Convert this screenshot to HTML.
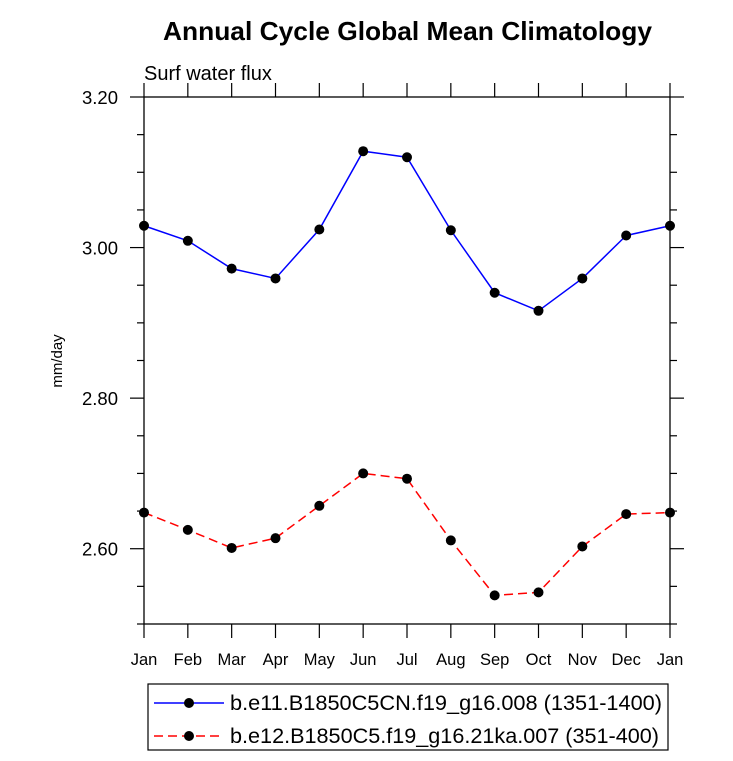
<!DOCTYPE html>
<html><head><meta charset="utf-8"><style>body{margin:0;background:#fff}svg{display:block}</style></head>
<body>
<svg id="chart" width="733" height="761" viewBox="0 0 733 761" font-family="'Liberation Sans', sans-serif">
<text x="163" y="40" textLength="489" lengthAdjust="spacingAndGlyphs" font-size="26" font-weight="bold">Annual Cycle Global Mean Climatology</text>
<text x="144" y="80" font-size="20">Surf water flux</text>
<text transform="translate(62,361) rotate(-90)" text-anchor="middle" font-size="15">mm/day</text>
<g id="axes"></g>
<g id="series"></g>
<g>
<rect x="148" y="684" width="520" height="66" fill="none" stroke="#000" stroke-width="1.2"/>
<line x1="154" y1="703" x2="224" y2="703" stroke="#0000ff" stroke-width="1.5"/>
<circle cx="189" cy="703" r="5" fill="#000"/>
<text x="230" y="710" textLength="432" lengthAdjust="spacingAndGlyphs" font-size="21">b.e11.B1850C5CN.f19_g16.008 (1351-1400)</text>
<line x1="154" y1="736" x2="224" y2="736" stroke="#ff0000" stroke-width="1.5" stroke-dasharray="9,5"/>
<circle cx="189" cy="736" r="5" fill="#000"/>
<text x="230" y="743" textLength="429" lengthAdjust="spacingAndGlyphs" font-size="21">b.e12.B1850C5.f19_g16.21ka.007 (351-400)</text>
</g>
</svg>
<script>
const months = ["Jan","Feb","Mar","Apr","May","Jun","Jul","Aug","Sep","Oct","Nov","Dec","Jan"];
const seriesBlue = [3.029,3.009,2.972,2.959,3.024,3.128,3.120,3.023,2.940,2.916,2.959,3.016,3.029];
const seriesRed = [2.648,2.625,2.601,2.614,2.657,2.700,2.693,2.611,2.538,2.542,2.603,2.646,2.648];
const yTicks = [2.60,2.80,3.00,3.20];
const yTickLabels = ["2.60","2.80","3.00","3.20"];
const yMin = 2.5, yMax = 3.2;
const L=144,R=670,T=97,B=624;
const NS="http://www.w3.org/2000/svg";
function xs(i){return L+(R-L)*i/(months.length-1);}
function ys(v){return B-(B-T)*(v-yMin)/(yMax-yMin);}
function mk(tag,attrs,parent){const e=document.createElementNS(NS,tag);for(const k in attrs)e.setAttribute(k,attrs[k]);parent.appendChild(e);return e;}
const ax=document.getElementById('axes');
const frame=mk('rect',{x:L,y:T,width:R-L,height:B-T,fill:'none',stroke:'#000','stroke-width':1.3},ax);


months.forEach((m,i)=>{
  const x=xs(i);
  mk('line',{x1:x,y1:B,x2:x,y2:B+14,stroke:'#000','stroke-width':1.2},ax);
  mk('line',{x1:x,y1:T,x2:x,y2:T-14,stroke:'#000','stroke-width':1.2},ax);
  const t=mk('text',{x:x,y:B+41,'text-anchor':'middle','font-size':16.5},ax);
  t.textContent=m;
  
  
});
for(let v=yMin;v<=yMax+1e-9;v+=0.05){
  const y=ys(v);
  const major=yTicks.some(t=>Math.abs(t-v)<1e-6);
  const len=major?14:7;
  mk('line',{x1:L,y1:y,x2:L-len,y2:y,stroke:'#000','stroke-width':1.2},ax);
  mk('line',{x1:R,y1:y,x2:R+len,y2:y,stroke:'#000','stroke-width':1.2},ax);
}
yTicks.forEach((v,i)=>{
  const t=mk('text',{x:L-26,y:ys(v)+7,'text-anchor':'end','font-size':18.5},ax);
  t.textContent=yTickLabels[i];
  
  
});
const sg=document.getElementById('series');
function draw(vals,color,dash,name){
  const pts=vals.map((v,i)=>xs(i)+','+ys(v)).join(' ');
  const pl=mk('polyline',{points:pts,fill:'none',stroke:color,'stroke-width':1.5,'stroke-dasharray':dash},sg);
  
  
  vals.forEach((v,i)=>{
    const c=mk('circle',{cx:xs(i),cy:ys(v),r:5,fill:'#000'},sg);
    
    
  });
}
draw(seriesBlue,'#0000ff','none','blue-series');
draw(seriesRed,'#ff0000','9,5','red-series');
</script>
</body></html>
